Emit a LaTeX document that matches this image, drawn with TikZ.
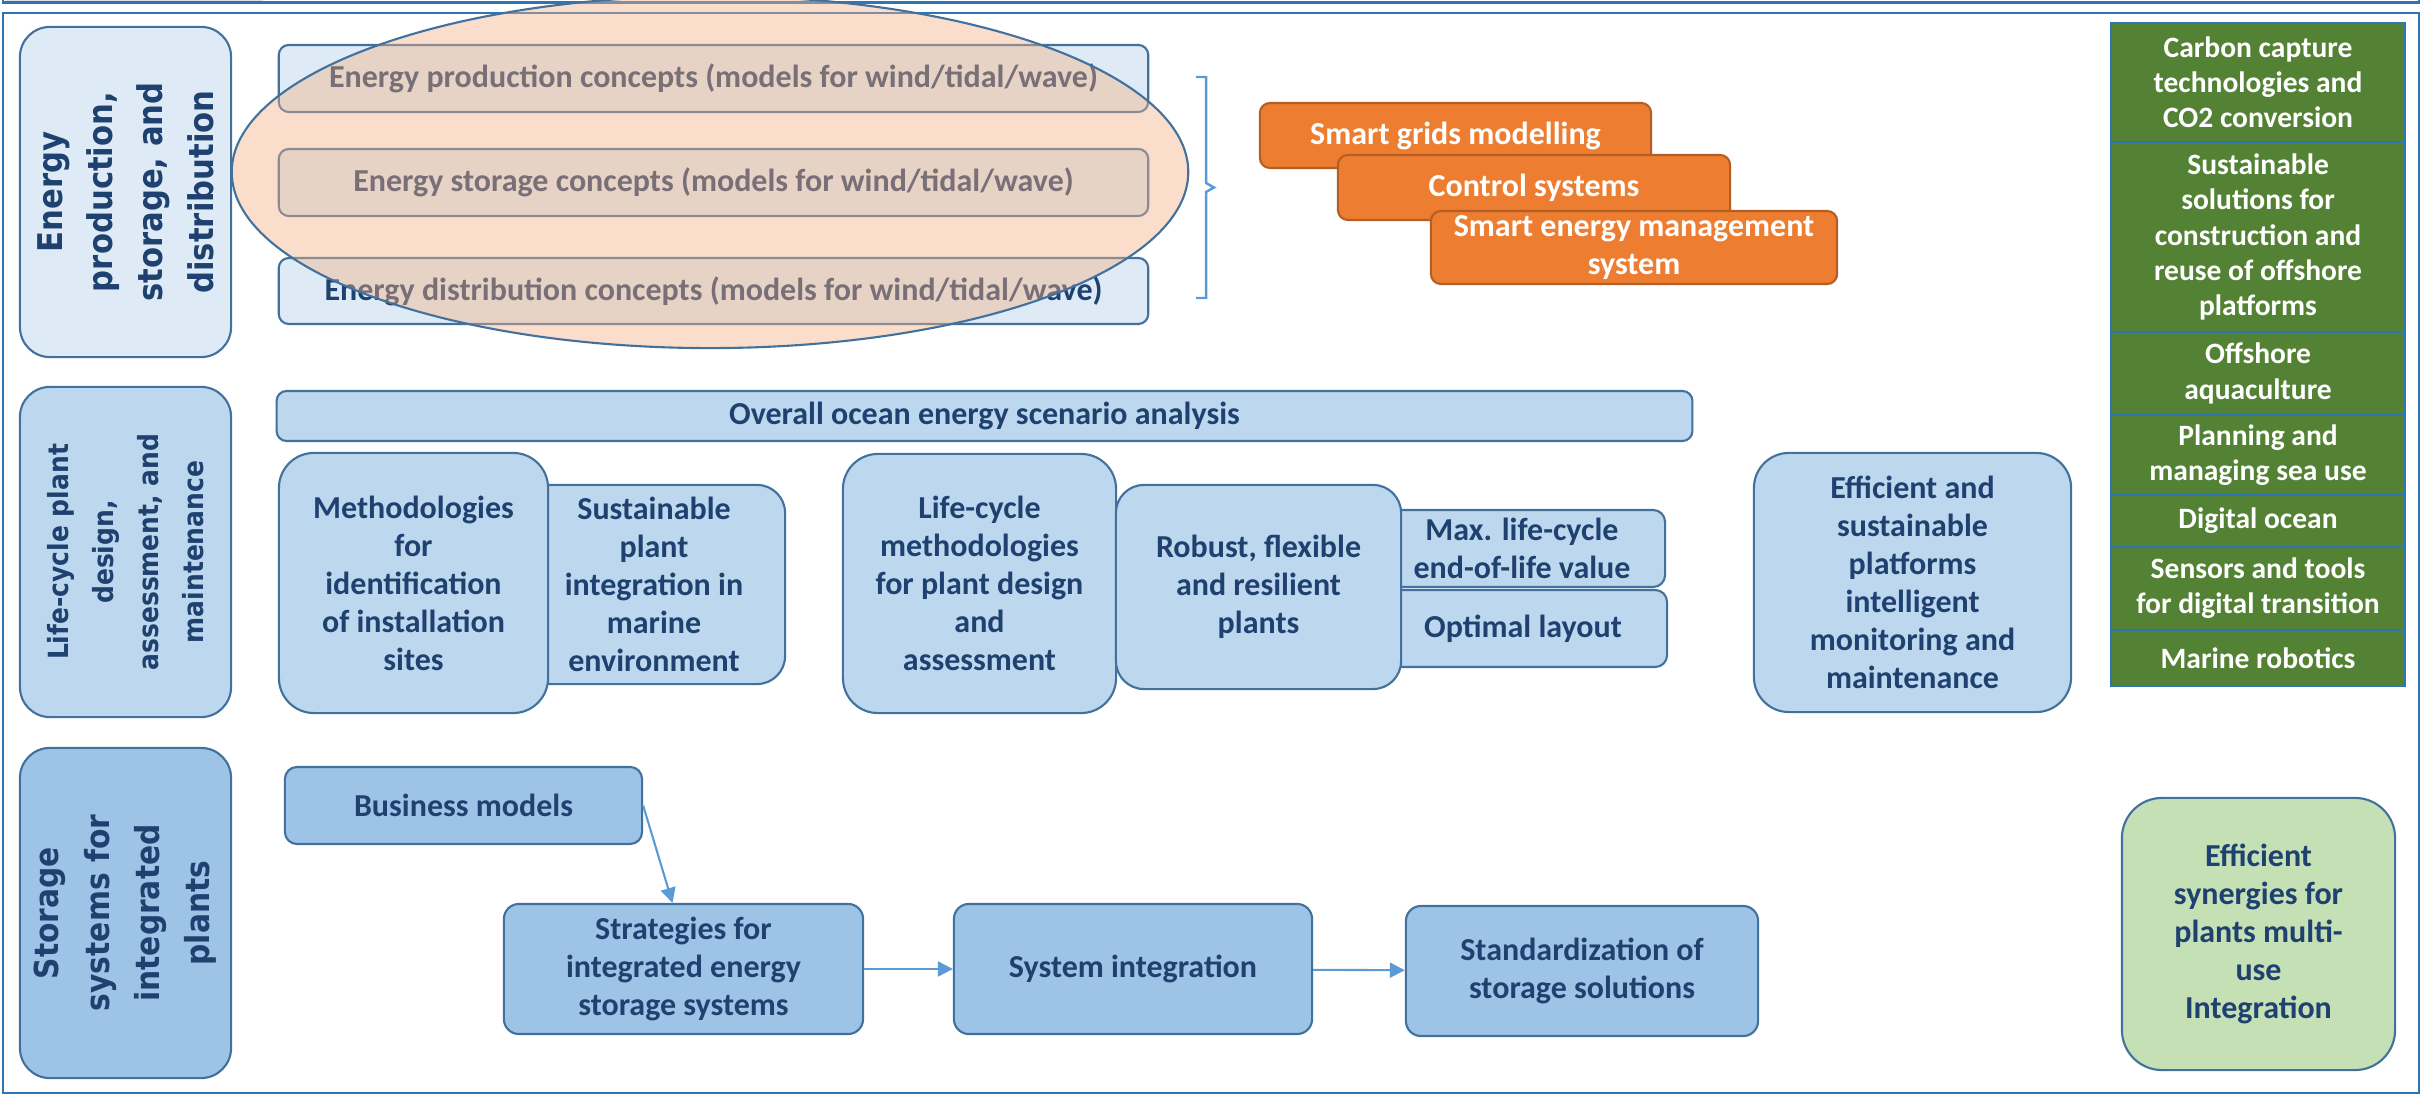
\documentclass[tikz,border=0pt]{standalone}
\usepackage{fontspec}
\setmainfont{Carlito}
\newfontfamily\catfont[FakeStretch=0.9]{DejaVu Sans}
\usepackage{xcolor}
\usepackage{tikz}
\usetikzlibrary{arrows.meta}
\definecolor{frameblue}{HTML}{2E75B6}
\definecolor{edge}{HTML}{41719C}
\definecolor{ink}{HTML}{1F4170}
\definecolor{paleblue}{HTML}{DEEBF7}
\definecolor{midblue}{HTML}{BDD7EE}
\definecolor{deepblue}{HTML}{9DC3E6}
\definecolor{arrowblue}{HTML}{5B9BD5}
\definecolor{peach}{HTML}{F4B183}
\definecolor{orangefill}{HTML}{ED7D31}
\definecolor{orangeedge}{HTML}{B35E24}
\definecolor{grass}{HTML}{548235}
\definecolor{lightgrass}{HTML}{C5E0B4}

\begin{document}
\begin{tikzpicture}[x=0.01cm, y=-0.01cm,
  txt/.style={font=\fontsize{9.1}{10.8}\selectfont\bfseries, text=ink, align=center, inner xsep=1pt, inner ysep=0pt},
  cat/.style={rotate=90, draw=edge, line width=0.6pt, rounded corners=0.3cm, text=ink, align=center, inner sep=1pt},
  ebox/.style={txt, draw=edge, line width=0.6pt, fill=paleblue, rounded corners=0.1cm},
  lbox/.style={txt, draw=edge, line width=0.6pt, fill=midblue},
  sbox/.style={txt, draw=edge, line width=0.6pt, fill=deepblue},
  obox/.style={txt, text=white, draw=orangeedge, line width=0.6pt, fill=orangefill, rounded corners=0.1cm},
  gbox/.style={txt, font=\fontsize{8.4}{10}\selectfont\bfseries, text=white, draw=frameblue, line width=0.7pt, fill=grass, minimum width=2.94cm},
  flow/.style={draw=arrowblue, line width=0.6pt, -{Triangle[length=0.15cm, width=0.15cm]}}
]
  \useasboundingbox (0,0) rectangle (2422,1095);
  % Frame
  \fill[black!12] (5,0) rectangle (263,2);
  \draw[frameblue, line width=0.6pt] (3,0) |- (2419,2.5) -- (2419,0);
  \draw[frameblue, line width=0.6pt] (3,13) rectangle (2419,1093);

  % Row titles
  \node[cat, fill=paleblue, minimum width=3.30cm, minimum height=2.11cm,
        font=\catfont\bfseries\fontsize{9.7}{14.3}\selectfont] (energy) at (125.5,192)
        {Energy\\production,\\storage, and\\distribution};
  \node[cat, fill=midblue, minimum width=3.30cm, minimum height=2.11cm,
        font=\catfont\bfseries\fontsize{7.9}{12.8}\selectfont] (lifecycle) at (125.5,552)
        {Life-cycle plant\\design,\\assessment, and\\maintenance};
  \node[cat, fill=deepblue, minimum width=3.30cm, minimum height=2.11cm,
        font=\catfont\bfseries\fontsize{9.4}{14.3}\selectfont] (storage) at (125.5,913)
        {Storage\\systems for\\integrated\\plants};

  % Energy concepts
  \node[ebox, minimum width=8.69cm, minimum height=0.67cm] (prod) at (713.5,78.5) {Energy production concepts (models for wind/tidal/wave)};
  \node[ebox, minimum width=8.69cm, minimum height=0.67cm] (stor) at (713.5,182.5) {Energy storage concepts (models for wind/tidal/wave)};
  \node[ebox, minimum width=8.69cm, minimum height=0.66cm] (dist) at (713.5,291) {Energy distribution concepts (models for wind/tidal/wave)};
  \draw[edge, line width=0.6pt, fill=peach, fill opacity=0.42] (710,172) ellipse [x radius=4.78cm, y radius=1.76cm];
  \draw[arrowblue, line width=0.7pt] (1196,77) -- (1206,77) -- (1206,183) -- (1214,187.5) -- (1206,192) -- (1206,298) -- (1196,298);

  % Smart grids
  \node[obox, minimum width=3.91cm, minimum height=0.65cm] (grids) at (1455.5,135.5) {Smart grids modelling};
  \node[obox, minimum width=3.92cm, minimum height=0.65cm] (control) at (1534,187.5) {Control systems};
  \node[obox, minimum width=4.06cm, minimum height=0.73cm] (ems) at (1634,247.5) {Smart energy management\\system};

  % Green column
  \foreach \n/\y/\h/\t in {
      carbon/82.5/1.19/{Carbon capture\\technologies and\\CO2 conversion},
      reuse/237/1.90/{Sustainable\\solutions for\\construction and\\reuse of offshore\\platforms},
      aqua/373.5/0.83/{Offshore\\aquaculture},
      seause/455/0.80/{Planning and\\managing sea use},
      ocean/521/0.52/{Digital ocean},
      sensors/588.5/0.83/{Sensors and tools\\for digital transition},
      robotics/658/0.56/{Marine robotics}}
    \node[gbox, minimum height=\h cm] (\n) at (2258,\y) {\t};

  % Life-cycle row
  \node[lbox, rounded corners=0.1cm, minimum width=14.15cm, minimum height=0.50cm] (overall) at (984.5,416) {Overall ocean energy scenario analysis};
  \node[lbox, rounded corners=0.28cm, minimum width=2.62cm, minimum height=1.99cm] (marine) at (654,584.5) {Sustainable\\plant\\integration in\\marine\\environment};
  \node[lbox, rounded corners=0.35cm, minimum width=2.69cm, minimum height=2.60cm] (sites) at (413.5,583) {Methodologies\\for\\identification\\of installation\\sites};
  \node[lbox, rounded corners=0.35cm, minimum width=2.73cm, minimum height=2.59cm] (lcm) at (979.5,583.5) {Life-cycle\\methodologies\\for plant design\\and\\assessment};
  \node[lbox, rounded corners=0.12cm, minimum width=2.86cm, minimum height=0.77cm] (eol) at (1522,548.5) {Max. life-cycle\\end-of-life value};
  \node[lbox, rounded corners=0.12cm, minimum width=2.88cm, minimum height=0.77cm] (layout) at (1523,628.5) {Optimal layout};
  \node[lbox, rounded corners=0.28cm, minimum width=2.85cm, minimum height=2.04cm] (robust) at (1258.5,587) {Robust, flexible\\and resilient\\plants};
  \node[lbox, rounded corners=0.35cm, minimum width=3.17cm, minimum height=2.59cm] (platforms) at (1912.5,582.5) {Efficient and\\sustainable\\platforms\\intelligent\\monitoring and\\maintenance};

  % Storage row
  \node[sbox, rounded corners=0.12cm, minimum width=3.57cm, minimum height=0.77cm] (business) at (463.5,805.5) {Business models};
  \node[sbox, rounded corners=0.15cm, minimum width=3.59cm, minimum height=1.30cm] (strategies) at (683.5,969) {Strategies for\\integrated energy\\storage systems};
  \node[sbox, rounded corners=0.15cm, minimum width=3.58cm, minimum height=1.30cm] (sysint) at (1133,969) {System integration};
  \node[sbox, rounded corners=0.15cm, minimum width=3.52cm, minimum height=1.30cm] (standard) at (1582,971) {Standardization of\\storage solutions};
  \node[sbox, fill=lightgrass, rounded corners=0.4cm, minimum width=2.73cm, minimum height=2.72cm] (synergy) at (2258.5,934) {Efficient\\synergies for\\plants multi-\\use\\Integration};
  \draw[flow] (business.east) -- ([xshift=-0.11cm]strategies.north);
  \draw[flow] (strategies) -- (sysint);
  \draw[flow] (sysint) -- (standard);
\end{tikzpicture}
\end{document}
